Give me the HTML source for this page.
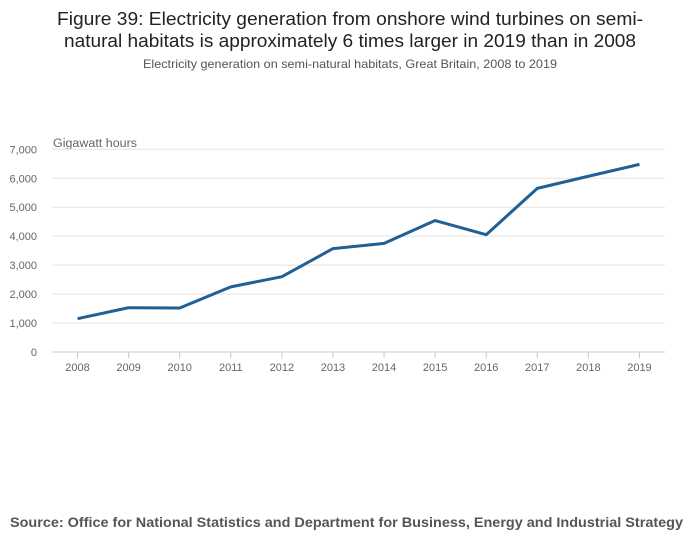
<!DOCTYPE html>
<html><head><meta charset="utf-8"><style>
body{margin:0;background:#fff;font-family:"Liberation Sans",sans-serif;}
svg text{font-family:"Liberation Sans",sans-serif;}
</style></head><body>
<svg width="700" height="549" xmlns="http://www.w3.org/2000/svg">
<text x="350" y="25" text-anchor="middle" font-size="18" fill="#222" textLength="586" lengthAdjust="spacingAndGlyphs">Figure 39: Electricity generation from onshore wind turbines on semi-</text>
<text x="350" y="47" text-anchor="middle" font-size="18" fill="#222" textLength="572" lengthAdjust="spacingAndGlyphs">natural habitats is approximately 6 times larger in 2019 than in 2008</text>
<text x="350" y="68" text-anchor="middle" font-size="12" fill="#555" textLength="414" lengthAdjust="spacingAndGlyphs">Electricity generation on semi-natural habitats, Great Britain, 2008 to 2019</text>
<text x="53" y="147" font-size="11.5" fill="#666" textLength="84" lengthAdjust="spacingAndGlyphs">Gigawatt hours</text>
<g id="grid"></g><g id="xa"></g>
<path id="line" fill="none" stroke="#206095" stroke-width="3" stroke-linejoin="round"/>
<text x="10" y="527" font-size="13.5" font-weight="bold" fill="#555" textLength="673" lengthAdjust="spacingAndGlyphs">Source: Office for National Statistics and Department for Business, Energy and Industrial Strategy</text>
</svg>
<script>
const years=["2008","2009","2010","2011","2012","2013","2014","2015","2016","2017","2018","2019"];
const values=[1150,1530,1520,2250,2600,3570,3750,4540,4050,5650,6070,6480];
const yTicks=[0,1000,2000,3000,4000,5000,6000,7000];
const NS="http://www.w3.org/2000/svg";
const x0=52,x1=665,yTop=149.3,yBot=352,yMax=7000;
const step=(x1-x0)/years.length;
const xs=i=>x0+step*(i+0.5);
const ys=v=>yBot-(v/yMax)*(yBot-yTop);
const g=document.getElementById('grid'),xa=document.getElementById('xa');
function mk(tag,attrs,parent,txt){const e=document.createElementNS(NS,tag);for(const k in attrs)e.setAttribute(k,attrs[k]);if(txt!==undefined)e.textContent=txt;parent.appendChild(e);return e;}
yTicks.forEach(t=>{
 const l=mk('line',{x1:x0,x2:x1,y1:ys(t),y2:ys(t),stroke:t===0?'#bcd':'#e3e3e3','stroke-width':1},g);
 
 
 const tx=mk('text',{x:37,y:ys(t)+4,'text-anchor':'end','font-size':11,fill:'#666'},g,t.toLocaleString('en-GB'));
 
 
});
years.forEach((y,i)=>{
 const tk=mk('line',{x1:xs(i),x2:xs(i),y1:yBot,y2:yBot+6,stroke:'#bcd'},xa);
 
 
 const tx=mk('text',{x:xs(i),y:yBot+19,'text-anchor':'middle','font-size':11,fill:'#666'},xa,y);
 
 
});
document.getElementById('line').setAttribute('d',values.map((v,i)=>(i?'L':'M')+xs(i)+','+ys(v)).join(''));
</script>
</body></html>
